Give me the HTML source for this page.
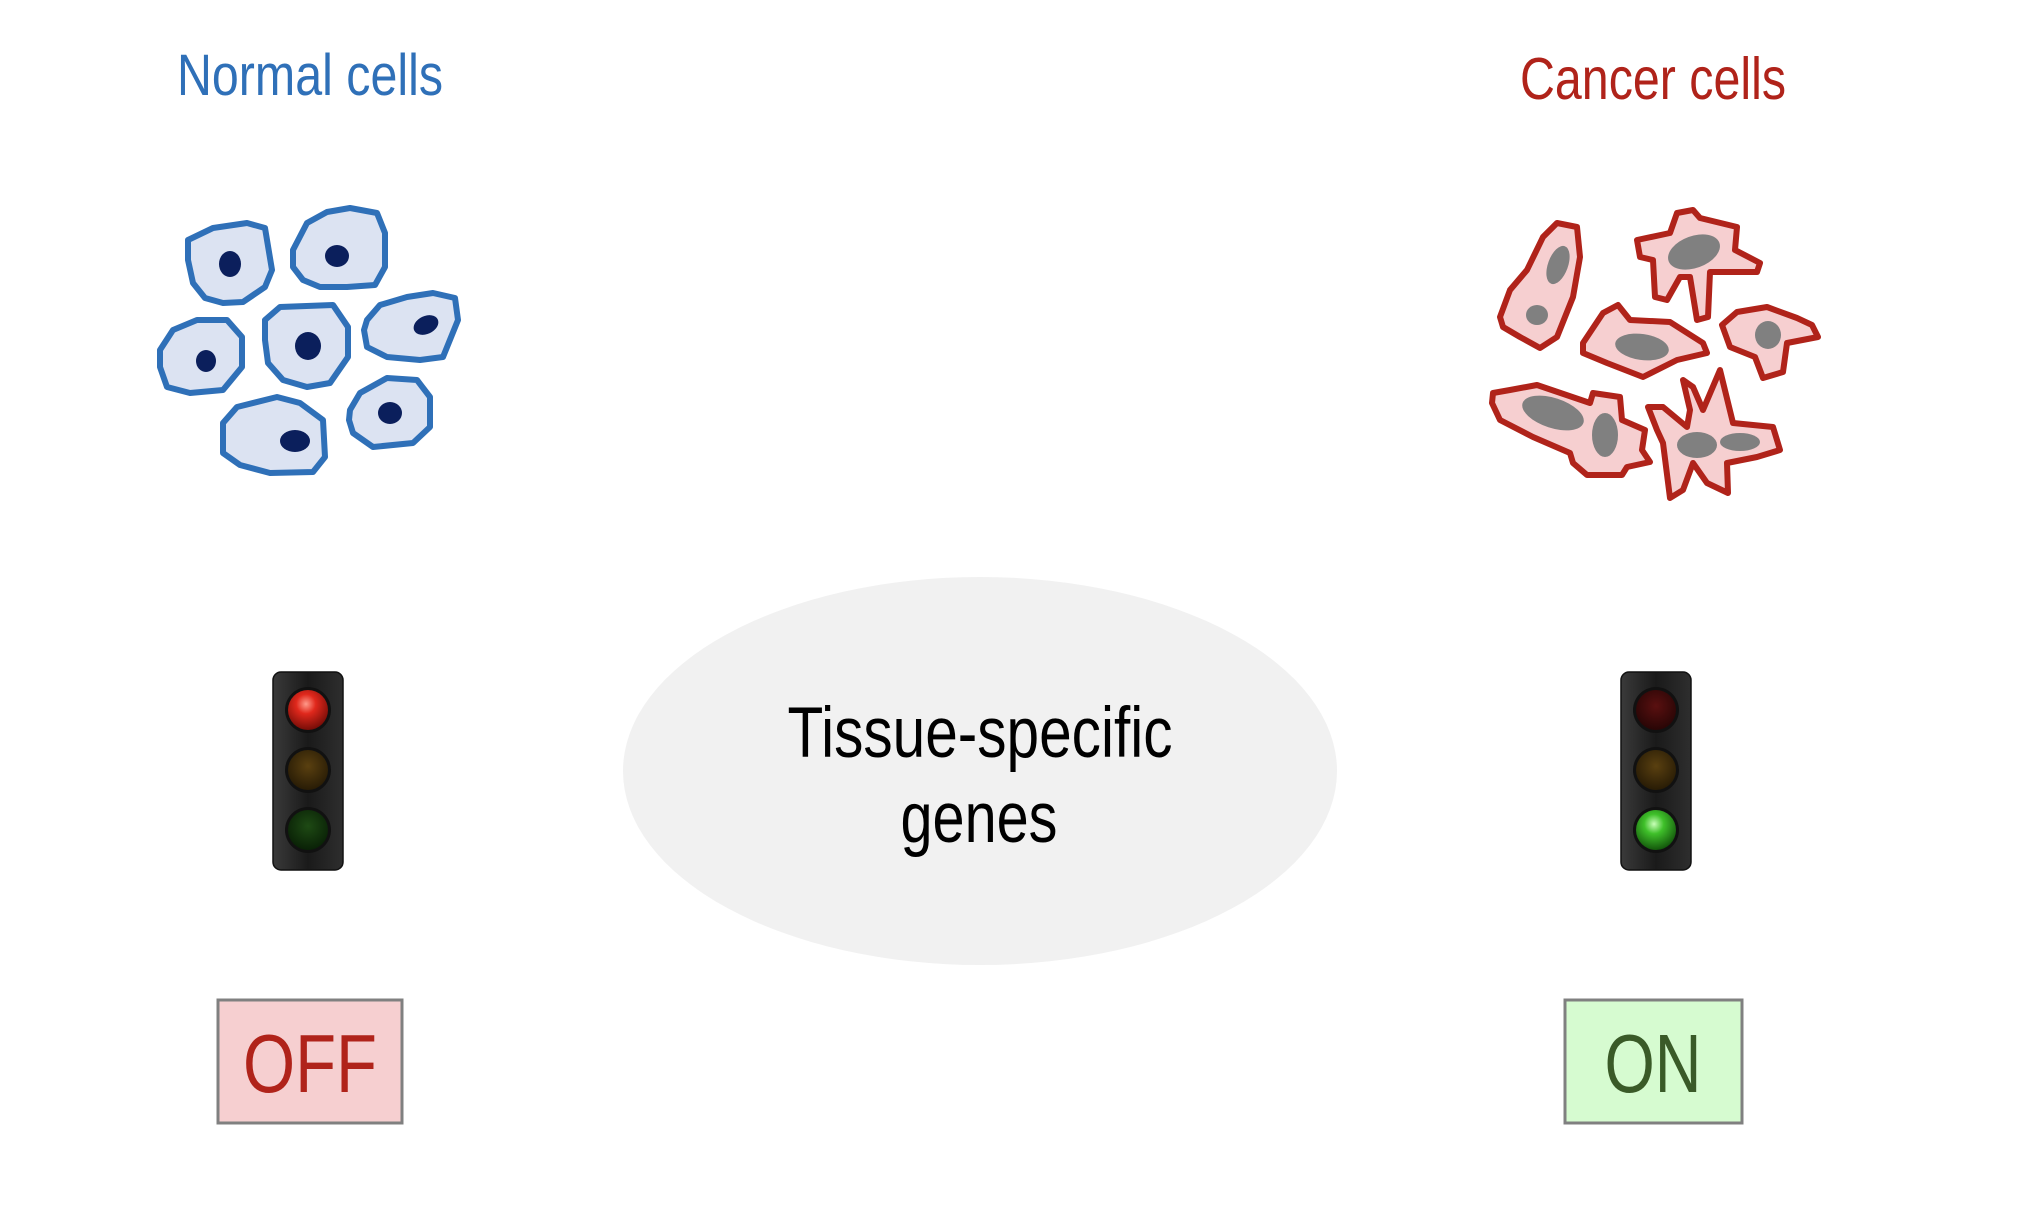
<!DOCTYPE html>
<html><head><meta charset="utf-8"><style>
html,body{margin:0;padding:0;background:#fff;}
svg{display:block;}
text{font-family:"Liberation Sans Narrow","Liberation Sans",sans-serif;}
</style></head><body>
<svg width="2038" height="1232" viewBox="0 0 2038 1232">
<defs>
<radialGradient id="redOn" cx="0.45" cy="0.35" r="0.7"><stop offset="0" stop-color="#ff9a8a"/><stop offset="0.35" stop-color="#e0281c"/><stop offset="1" stop-color="#6a0a05"/></radialGradient>
<radialGradient id="greenOn" cx="0.45" cy="0.35" r="0.7"><stop offset="0" stop-color="#c8ffb8"/><stop offset="0.35" stop-color="#3fc02a"/><stop offset="1" stop-color="#0e4a08"/></radialGradient>
<radialGradient id="redOff" cx="0.5" cy="0.4" r="0.7"><stop offset="0" stop-color="#5a1010"/><stop offset="1" stop-color="#200404"/></radialGradient>
<radialGradient id="amberOff" cx="0.5" cy="0.4" r="0.7"><stop offset="0" stop-color="#5a4010"/><stop offset="1" stop-color="#201604"/></radialGradient>
<radialGradient id="greenOff" cx="0.5" cy="0.4" r="0.7"><stop offset="0" stop-color="#1e4a14"/><stop offset="1" stop-color="#061a04"/></radialGradient>
<linearGradient id="housing" x1="0" x2="1"><stop offset="0" stop-color="#3a3a3a"/><stop offset="0.5" stop-color="#1a1a1a"/><stop offset="1" stop-color="#2e2e2e"/></linearGradient>
</defs>

<text x="310" y="95" font-size="58" fill="#2f70b8" text-anchor="middle" textLength="266" lengthAdjust="spacingAndGlyphs">Normal cells</text>
<text x="1653" y="99" font-size="59" fill="#b0231a" text-anchor="middle" textLength="266" lengthAdjust="spacingAndGlyphs">Cancer cells</text>

<g stroke="#2f70b8" stroke-width="6" fill="#dce3f2" stroke-linejoin="round">
<polygon points="188,240 213,228 247,223 265,228 272,270 265,287 243,302 223,303 205,298 193,283 188,260"/>
<polygon points="293,250 307,223 327,212 350,208 377,213 385,233 385,267 375,285 347,287 320,287 303,280 293,267"/>
<polygon points="160,350 173,330 197,320 227,320 242,337 242,367 223,390 190,393 167,387 160,367"/>
<polygon points="265,320 280,307 333,305 348,327 348,357 330,383 307,387 283,380 268,363 265,340"/>
<polygon points="367,320 380,305 407,297 433,293 455,298 458,320 443,357 420,360 387,357 367,347 364,330"/>
<polygon points="223,423 237,407 277,397 300,403 323,420 325,457 313,472 270,473 240,465 223,453"/>
<polygon points="350,410 360,393 387,378 417,380 430,397 430,427 413,443 373,447 353,433 349,420"/>
<g fill="#0b1f5c" stroke="none">
<ellipse cx="230" cy="264" rx="11" ry="13"/>
<ellipse cx="337" cy="256" rx="12" ry="11"/>
<ellipse cx="206" cy="361" rx="10" ry="11"/>
<ellipse cx="308" cy="346" rx="13" ry="14"/>
<ellipse cx="426" cy="325" rx="13" ry="9" transform="rotate(-25 426 325)"/>
<ellipse cx="295" cy="441" rx="15" ry="11"/>
<ellipse cx="390" cy="413" rx="12" ry="11"/>
</g>
</g>

<g stroke="#b0231a" stroke-width="6" fill="#f6cfd0" stroke-linejoin="round">
<polygon points="1500,317 1510,290 1527,270 1543,237 1557,223 1577,227 1580,257 1573,297 1557,337 1540,348 1520,337 1503,327"/>
<polygon points="1637,240 1670,233 1677,213 1693,210 1700,218 1737,227 1735,250 1760,263 1757,272 1710,272 1708,317 1697,320 1690,277 1680,277 1667,300 1655,297 1653,260 1640,257"/>
<polygon points="1583,343 1603,313 1618,305 1630,320 1670,322 1703,343 1707,353 1677,360 1643,377 1607,363 1583,353"/>
<polygon points="1722,325 1737,312 1767,307 1797,318 1812,325 1818,337 1787,343 1783,372 1763,378 1755,357 1730,347"/>
<polygon points="1493,393 1510,390 1537,385 1590,403 1593,393 1620,397 1622,420 1645,430 1642,450 1650,462 1627,467 1622,475 1587,475 1573,463 1570,453 1533,437 1500,420 1492,403"/>
<polygon points="1648,407 1663,407 1687,427 1690,410 1683,380 1693,387 1703,410 1720,370 1733,423 1773,427 1780,450 1757,457 1727,463 1728,493 1707,483 1693,463 1683,490 1670,498 1663,443 1657,430"/>
<g fill="#808080" stroke="none">
<ellipse cx="1558" cy="265" rx="10" ry="20" transform="rotate(20 1558 265)"/>
<ellipse cx="1537" cy="315" rx="11" ry="10"/>
<ellipse cx="1694" cy="252" rx="27" ry="16" transform="rotate(-20 1694 252)"/>
<ellipse cx="1642" cy="347" rx="27" ry="13" transform="rotate(8 1642 347)"/>
<ellipse cx="1768" cy="335" rx="13" ry="14"/>
<ellipse cx="1553" cy="413" rx="32" ry="15" transform="rotate(18 1553 413)"/>
<ellipse cx="1605" cy="435" rx="13" ry="22"/>
<ellipse cx="1697" cy="445" rx="20" ry="13"/>
<ellipse cx="1740" cy="442" rx="20" ry="9"/>
</g>
</g>

<g>
<rect x="273" y="672" width="70" height="198" rx="8" fill="url(#housing)" stroke="#111" stroke-width="1.5"/>
<circle cx="308" cy="710" r="23" fill="#111"/><circle cx="308" cy="710" r="20" fill="url(#redOn)"/>
<circle cx="308" cy="770" r="23" fill="#111"/><circle cx="308" cy="770" r="20" fill="url(#amberOff)"/>
<circle cx="308" cy="830" r="23" fill="#111"/><circle cx="308" cy="830" r="20" fill="url(#greenOff)"/>
</g>
<g>
<rect x="1621" y="672" width="70" height="198" rx="8" fill="url(#housing)" stroke="#111" stroke-width="1.5"/>
<circle cx="1656" cy="710" r="23" fill="#111"/><circle cx="1656" cy="710" r="20" fill="url(#redOff)"/>
<circle cx="1656" cy="770" r="23" fill="#111"/><circle cx="1656" cy="770" r="20" fill="url(#amberOff)"/>
<circle cx="1656" cy="830" r="23" fill="#111"/><circle cx="1656" cy="830" r="20" fill="url(#greenOn)"/>
</g>

<g>
<ellipse cx="980" cy="771" rx="357" ry="194" fill="#f1f1f1"/>
<text x="980" y="757" font-size="71" fill="#000" text-anchor="middle" textLength="385" lengthAdjust="spacingAndGlyphs">Tissue-specific</text>
<text x="979" y="842" font-size="71" fill="#000" text-anchor="middle" textLength="157" lengthAdjust="spacingAndGlyphs">genes</text>
</g>

<g>
<rect x="218" y="1000" width="184" height="123" fill="#f6cfd0" stroke="#808080" stroke-width="3"/>
<text x="310" y="1092" font-size="83" fill="#b0231a" text-anchor="middle" textLength="134" lengthAdjust="spacingAndGlyphs">OFF</text>
</g>
<g>
<rect x="1565" y="1000" width="177" height="123" fill="#d6fbd0" stroke="#808080" stroke-width="3"/>
<text x="1653" y="1092" font-size="83" fill="#3a5a28" text-anchor="middle" textLength="97" lengthAdjust="spacingAndGlyphs">ON</text>
</g>
</svg>
</body></html>
